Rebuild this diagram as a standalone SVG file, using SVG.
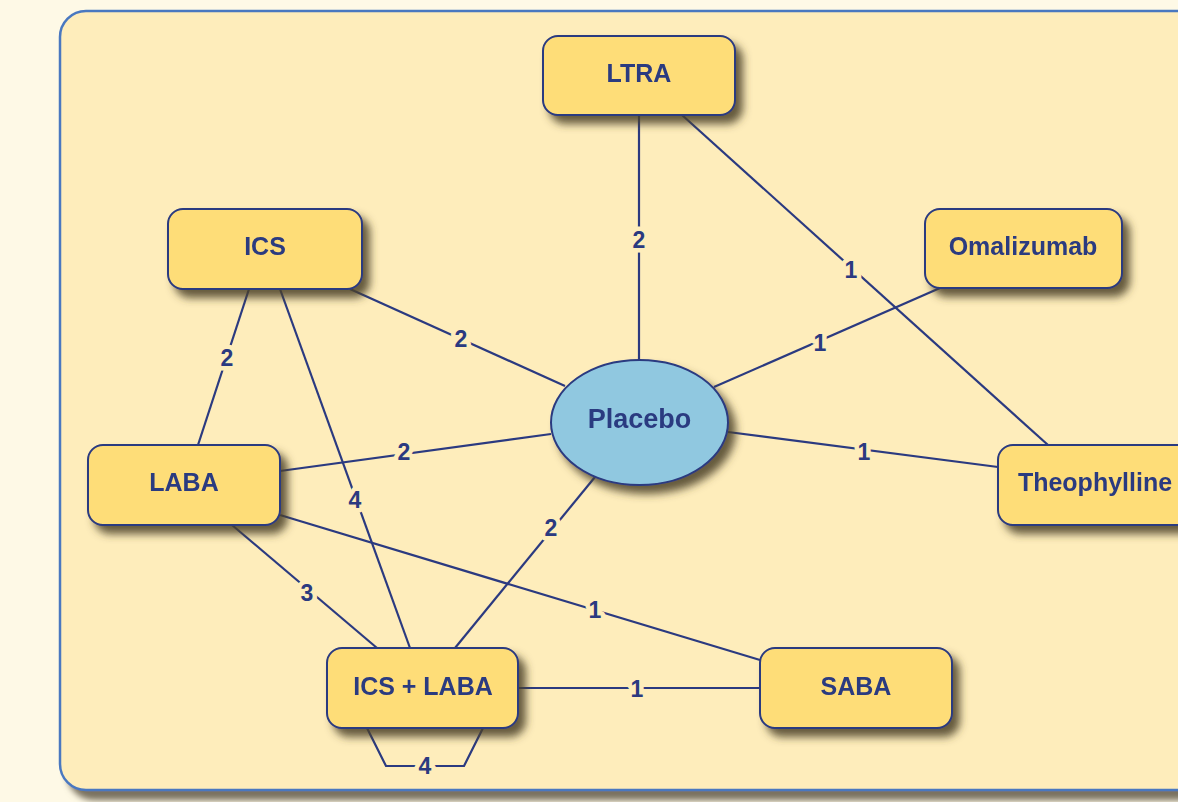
<svg xmlns="http://www.w3.org/2000/svg" width="1178" height="802" viewBox="0 0 1178 802">
<defs>
<filter id="sh" x="-20%" y="-20%" width="150%" height="160%">
<feGaussianBlur in="SourceAlpha" stdDeviation="4"/>
<feOffset dx="7" dy="8" result="b"/>
<feFlood flood-color="#4a4028" flood-opacity="0.85"/>
<feComposite in2="b" operator="in"/>
<feMerge><feMergeNode/><feMergeNode in="SourceGraphic"/></feMerge>
</filter>
<filter id="psh" x="-5%" y="-5%" width="115%" height="115%">
<feGaussianBlur in="SourceAlpha" stdDeviation="3"/>
<feOffset dx="8" dy="9" result="b"/>
<feFlood flood-color="#7a7260" flood-opacity="1"/>
<feComposite in2="b" operator="in"/>
<feMerge><feMergeNode/><feMergeNode in="SourceGraphic"/></feMerge>
</filter>
</defs>
<style>
.node{fill:#FEDD78;stroke:#2B3A80;stroke-width:2}
.ell{fill:#90C8E0;stroke:#2B3A80;stroke-width:2}
.t{font-family:"Liberation Sans",Arial,sans-serif;font-weight:bold;font-size:25px;fill:#2B3A80;text-anchor:middle;dominant-baseline:central}
.e{stroke:#2B3A80;stroke-width:2.2;fill:none}
.l{font-family:"Liberation Sans",Arial,sans-serif;font-weight:bold;font-size:23px;fill:#2B3A80;text-anchor:middle;dominant-baseline:central;stroke:#FEEDBB;stroke-width:9;paint-order:stroke;stroke-linejoin:round}
</style>
<rect width="1178" height="802" fill="#FEF9E6"/>
<rect id="panel" x="60" y="11" width="1160" height="779" rx="26" fill="#FEEDBB" stroke="#4A78C0" stroke-width="2.5" filter="url(#psh)"/>
<g id="connectors">
<line class="e" x1="639" y1="115" x2="639" y2="360"/>
<line class="e" x1="682" y1="115" x2="1048" y2="445"/>
<line class="e" x1="350" y1="289" x2="565" y2="386"/>
<line class="e" x1="940" y1="288" x2="714" y2="387"/>
<line class="e" x1="728" y1="432" x2="998" y2="467"/>
<line class="e" x1="249" y1="289" x2="198" y2="445"/>
<line class="e" x1="280" y1="289" x2="410" y2="648"/>
<line class="e" x1="280" y1="471" x2="551" y2="434"/>
<line class="e" x1="595" y1="477" x2="455" y2="648"/>
<line class="e" x1="232" y1="525" x2="377" y2="648"/>
<line class="e" x1="280" y1="515" x2="760" y2="660"/>
<line class="e" x1="518" y1="688" x2="760" y2="688"/>
<polyline class="e" points="367,728 386,766 464,766 483,728"/>
<text class="l" x="639" y="240">2</text>
<text class="l" x="851" y="270">1</text>
<text class="l" x="461" y="339">2</text>
<text class="l" x="820" y="343">1</text>
<text class="l" x="864" y="452">1</text>
<text class="l" x="227" y="358">2</text>
<text class="l" x="355" y="500">4</text>
<text class="l" x="404" y="452">2</text>
<text class="l" x="551" y="528">2</text>
<text class="l" x="307" y="593">3</text>
<text class="l" x="595" y="610">1</text>
<text class="l" x="637" y="689">1</text>
<text class="l" x="425" y="766">4</text>
</g>
<g id="n-ltra" filter="url(#sh)"><rect class="node" x="543" y="36" width="192" height="79" rx="15"/><text class="t" x="639" y="73">LTRA</text></g>
<g id="n-ics" filter="url(#sh)"><rect class="node" x="168" y="209" width="194" height="80" rx="15"/><text class="t" x="265" y="246">ICS</text></g>
<g id="n-omalizumab" filter="url(#sh)"><rect class="node" x="925" y="209" width="197" height="79" rx="15"/><text class="t" x="1023" y="246">Omalizumab</text></g>
<g id="n-placebo" filter="url(#sh)"><ellipse class="ell" cx="639.5" cy="422.5" rx="88.5" ry="62.5"/><text class="t" x="639.5" y="419" style="font-size:27px">Placebo</text></g>
<g id="n-laba" filter="url(#sh)"><rect class="node" x="88" y="445" width="192" height="80" rx="15"/><text class="t" x="184" y="482">LABA</text></g>
<g id="n-theophylline" filter="url(#sh)"><rect class="node" x="998" y="445" width="195" height="80" rx="15"/><text class="t" x="1095" y="482">Theophylline</text></g>
<g id="n-icslaba" filter="url(#sh)"><rect class="node" x="327" y="648" width="191" height="80" rx="15"/><text class="t" x="423" y="686">ICS + LABA</text></g>
<g id="n-saba" filter="url(#sh)"><rect class="node" x="760" y="648" width="192" height="80" rx="15"/><text class="t" x="856" y="686">SABA</text></g>
</svg>
